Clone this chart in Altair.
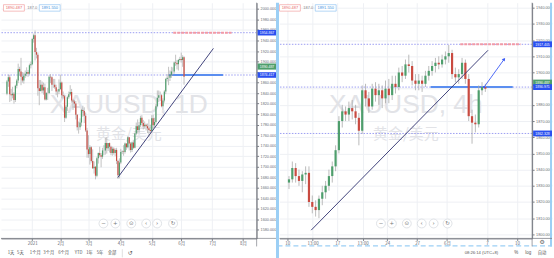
import altair as alt
import pandas as pd

GREEN = "#4e9e6c"; RED = "#c94a40"; WICK = "#a9a9a9"
GRID = "#eef0f4"; AXIS = "#7a7d85"; LAB = "#6a6d75"
BLUE = "#2a4ff0"; LBLUE = "#5b8ef0"; PINK = "#f29aa6"; DOT = "#9093f0"
NAVY = "#2d2f6e"; WM = "#e2e3e7"; SEL = "#9ccff5"
FONT = "Liberation Sans"; CJK = "Noto Sans CJK SC"; SYM = "DejaVu Sans"

# ---------------- Left pane: XAUUSD daily (bar 0 = 2020-12-07) ----------------
L_first_open = 1839
L_close = [1862,1870,1838,1836,1839,1827,1854,1864,1886,1881,1871,1864,1873,1877,1880,1877,1893,1895,
           1943,1950,1918,1913,1849,1844,1856,1845,1851,1828,1840,1840,1871,1870,1856,1856,1851,1843,1843,1848,
           1860,1836,1834,1793,1814,1832,1838,1842,1826,1824,1820,1799,1775,1775,1784,1808,1806,1797,1769,1733,
           1724,1737,1711,1697,1700,1683,1716,1726,1722,1719,1731,1731,1745,1735,1745,1738,1726,1734,1726,1732,1711,1684,1708,
           1728,1729,1728,1744,1737,1756,1744,1732,1746,1736,1763,1777,1770,1779,1793,1783,1777,1780,1777,1773,1770,1768,
           1792,1779,1785,1815,1831,1836,1836,1815,1826,1843,1867,1869,1869,1875,1881,1881,1898,1897,1895,1903,1905,1903,1908,1871]
L_high = [1865,1875,1875,1848,1852,1842,1856,1867,1896,1890,1907,1880,1879,1883,1889,1884,1896,1900,
          1945,1953,1959,1926,1917,1865,1865,1862,1860,1858,1842,1850,1874,1876,1872,1867,1867,1856,1847,1866,
          1875,1862,1843,1837,1817,1835,1843,1855,1848,1829,1827,1825,1800,1786,1792,1810,1816,1813,1803,1774,
          1760,1741,1739,1733,1710,1701,1719,1727,1738,1726,1736,1741,1755,1756,1745,1746,1740,1738,1737,1735,1736,1713,1716,
          1734,1731,1741,1746,1745,1758,1756,1747,1748,1750,1765,1784,1790,1785,1797,1798,1789,1786,1782,1782,1790,1780,
          1798,1799,1793,1819,1845,1845,1843,1838,1830,1846,1869,1876,1890,1883,1890,1889,1900,1913,1903,1905,1909,1917,1912,1910]
L_low = [1836,1852,1823,1825,1830,1820,1823,1849,1859,1873,1855,1860,1858,1869,1872,1871,1875,1887,
         1893,1936,1902,1906,1835,1817,1843,1840,1837,1826,1826,1827,1838,1859,1844,1850,1848,1836,1832,1838,
         1846,1830,1830,1785,1791,1806,1829,1835,1822,1808,1812,1790,1769,1763,1770,1777,1795,1783,1766,1717,
         1717,1704,1708,1696,1687,1676,1680,1706,1718,1699,1715,1722,1723,1725,1730,1727,1722,1721,1723,1720,1705,1677,1678,
         1705,1724,1721,1725,1732,1735,1731,1727,1728,1734,1735,1760,1764,1765,1775,1779,1771,1773,1769,1764,1756,1764,
         1766,1771,1775,1782,1814,1823,1825,1813,1808,1822,1838,1862,1855,1863,1869,1873,1877,1892,1885,1883,1900,1898,1890,1856]
L_xtick_idx = [18, 38, 58, 81, 103, 124, 146, 168]
L_xtick_lab = ["2021", "2月", "3月", "4月", "5月", "6月", "7月", "8月"]
L_yticks = [1580,1600,1620,1640,1660,1680,1700,1720,1740,1760,1780,1800,1820,1840,1860,1880,1900,1920,1940,1960,1980,2000]
L_hidden_ticks = [1880]
L_levels = [1954.867, 1874.417]
L_trend = [78.9, 146.9, 1679.5, 1925.0]          # x1, x2, price1, price2
L_red_seg = [118.3, 159.8, 1954.867]
L_blue_seg = [114.9, 153.7, 1874.417]
L_labels = ["1954.867", "1874.417"]
L_last = [1890.487, "1890.487"]

# ---------------- Right pane: XAUUSD 4h (shown as 3 bars a day, day 0 = 10 May) ----------------
R_first_open = 1832
R_close = [1834,1841,1836, 1833,1837,1838, 1820,1817,1815, 1822,1826,1830, 1836,1842,1852, 1870,1876,1874,
           1878,1876,1872, 1864,1889,1884, 1879,1890,1886, 1889,1884,1890, 1886,1893,1891, 1900,1898,1905,
           1904,1895,1893, 1895,1893,1898, 1901,1904,1906, 1905,1908,1910, 1912,1899,1897, 1899,1906,1896,
           1873,1869,1868, 1889,1891,1890]
R_high = [1836,1845,1844, 1840,1839,1842, 1842,1824,1821, 1824,1830,1833, 1840,1845,1855, 1873,1880,1879,
          1882,1883,1880, 1875,1892,1893, 1888,1893,1894, 1893,1892,1895, 1896,1898,1898, 1903,1904,1908,
          1911,1907,1899, 1899,1898,1901, 1904,1907,1909, 1910,1911,1913, 1917,1914,1903, 1902,1909,1908,
          1899,1877,1874, 1892,1894,1893]
R_low = [1828,1832,1832, 1830,1826,1831, 1817,1813,1811, 1810,1818,1822, 1827,1832,1839, 1850,1866,1870,
         1870,1871,1868, 1855,1862,1879, 1875,1877,1882, 1880,1878,1881, 1881,1883,1887, 1889,1894,1896,
         1900,1892,1889, 1889,1888,1891, 1895,1898,1900, 1902,1903,1905, 1906,1896,1894, 1893,1896,1893,
         1870,1856,1863, 1866,1886,1888]
R_xtick_day = [0, 2.54, 5, 7.54, 10, 13, 16, 20, 23]
R_xtick_lab = ["10", "13:00", "17", "13:00", "24", "27", "6月", "7", "10"]
R_yticks = [1800,1810,1820,1830,1840,1850,1860,1870,1880,1890,1900,1910,1920,1930,1940]
R_hidden_ticks = [1890]
R_levels = [1917.405, 1890.971, 1862.328]
R_trend = [2.39, 20.1, 1802.6, 1913.7]
R_arrow = [19.71, 21.72, 1891.0, 1908.2]
R_red_seg = [17.32, 23.35, 1917.405]
R_blue_seg = [14.35, 22.58, 1890.971]
R_labels = ["1917.405", "1890.971", "1862.328"]
R_last = [1893.6, "1890.487"]

TOOLBAR = ["1天", "5天", "1个月", "3个月", "6个月", "YTD", "1年", "5年", "全部"]
BUTTONS = ["−", "+", "⊙", "‹", "›", "↻"]

ONE = pd.DataFrame({"a": [0]})


def vtext(s, x, y, size=4.2, color=LAB, align="center", baseline="middle", font=FONT, weight="normal"):
    return alt.Chart(pd.DataFrame({"t": [s]})).mark_text(
        fontSize=size, color=color, align=align, baseline=baseline, font=font, fontWeight=weight
    ).encode(x=alt.value(x), y=alt.value(y), text="t:N")


def vbox(x1, x2, y1, y2, fill, stroke="transparent", sw=0.0):
    return alt.Chart(ONE).mark_rect(fill=fill, stroke=stroke, strokeWidth=sw).encode(
        x=alt.value(x1), x2=alt.value(x2), y=alt.value(y1), y2=alt.value(y2))


def vrule(x1, x2, y1, y2, color, sw=1.0, dash=(1, 0)):
    return alt.Chart(ONE).mark_rule(color=color, strokeWidth=sw, strokeDash=list(dash)).encode(
        x=alt.value(x1), x2=alt.value(x2), y=alt.value(y1), y2=alt.value(y2))


def label_expr(vals, labs):
    e = "''"
    for v, l in reversed(list(zip(vals, labs))):
        e = f"datum.value == {v} ? '{l}' : " + e
    return e


def ylabel_expr(hidden):
    cond = " || ".join(f"datum.value == {h}" for h in hidden)
    return f"({cond}) ? '' : format(datum.value, '.3f')"


def pane(first_open, close, high, low, xpos, W, H, xdom, ydom, xticks, xlabs, yticks, hidden,
         body_w, wick_w, levels, trend, red_seg, blue_seg, labels, last, half, sub, btn_x, head_x0, extra):
    opens = [first_open] + close[:-1]
    df = pd.DataFrame({"x": xpos, "o": opens, "h": high, "l": low, "c": close})
    xs = alt.Scale(domain=xdom, nice=False, zero=False)
    ys = alt.Scale(domain=ydom, nice=False, zero=False)
    xa = alt.Axis(values=xticks, labelExpr=label_expr(xticks, xlabs), orient="bottom", title=None,
                  grid=True, gridColor=GRID, domainColor=AXIS, tickColor=AXIS, tickSize=2,
                  labelFontSize=4.5, labelColor=LAB, labelFont=CJK, labelPadding=0.5,
                  labelFlush=False, labelOverlap=False, minExtent=21, maxExtent=21)
    ya = alt.Axis(values=yticks, labelExpr=ylabel_expr(hidden), orient="right", title=None,
                  grid=True, gridColor=GRID, domainColor=AXIS, tickColor=AXIS, tickSize=2,
                  labelFontSize=3.8, labelColor=LAB, labelPadding=1.5, labelFont=FONT,
                  labelFlush=False, labelOverlap=False, minExtent=20, maxExtent=20)
    X = lambda f: alt.X(f, type="quantitative", scale=xs, axis=xa)
    Y = lambda f: alt.Y(f, type="quantitative", scale=ys, axis=ya)

    layers = []
    # watermark
    layers.append(vtext("XAUUSD, " + sub, W / 2, 111, size=26.5, color=WM, baseline="alphabetic"))
    layers.append(vtext("黄金/美元", W / 2, 137, size=15, color=WM, baseline="alphabetic", font=CJK))
    # dotted level lines
    layers.append(alt.Chart(pd.DataFrame({"p": levels})).mark_rule(
        color=DOT, strokeWidth=0.9, strokeDash=[1.5, 1.5]).encode(y=Y("p")))
    # highlighted segments
    layers.append(alt.Chart(pd.DataFrame({"x1": [red_seg[0]], "x2": [red_seg[1]], "p": [red_seg[2]]})).mark_rule(
        color=PINK, strokeWidth=2, strokeDash=[3, 1]).encode(x=X("x1"), x2="x2", y=Y("p")))
    layers.append(alt.Chart(pd.DataFrame({"x1": [blue_seg[0]], "x2": [blue_seg[1]], "p": [blue_seg[2]]})).mark_rule(
        color=LBLUE, strokeWidth=2).encode(x=X("x1"), x2="x2", y=Y("p")))
    # candles
    base = alt.Chart(df)
    layers.append(base.mark_rule(color=WICK, strokeWidth=wick_w).encode(x=X("x"), y=Y("l"), y2="h"))
    layers.append(base.mark_bar(size=body_w).encode(
        x=X("x"), y=Y("o"), y2="c",
        color=alt.condition("datum.c >= datum.o", alt.value(GREEN), alt.value(RED))))
    # trend line
    layers.append(alt.Chart(pd.DataFrame({"x1": [trend[0]], "x2": [trend[1]], "p1": [trend[2]], "p2": [trend[3]]}))
                  .mark_rule(color=NAVY, strokeWidth=0.9).encode(x=X("x1"), x2="x2", y=Y("p1"), y2="p2"))
    layers += extra(X, Y)
    # axis extension lines
    layers.append(vrule(0, W + 20, H, H, AXIS, 0.8))
    layers.append(vrule(W, W, 0, H + 8, AXIS, 0.8))
    # price labels on the price axis
    lab_df = pd.DataFrame({"p": levels, "t": labels})
    last_df = pd.DataFrame({"p": [last[0]], "t": [last[1]]})
    layers.append(alt.Chart(last_df)
                  .transform_calculate(lo=f"datum.p - {half * 1.1}", hi=f"datum.p + {half * 1.1}")
                  .mark_rect(fill=GREEN).encode(x=alt.value(W + 1), x2=alt.value(W + 20), y=Y("lo"), y2="hi"))
    layers.append(alt.Chart(last_df).mark_text(fontSize=3.5, color="white", font=FONT).encode(
        x=alt.value(W + 10.5), y=Y("p"), text="t:N"))
    layers.append(alt.Chart(lab_df)
                  .transform_calculate(lo=f"datum.p - {half}", hi=f"datum.p + {half}")
                  .mark_rect(fill=BLUE).encode(x=alt.value(W + 1), x2=alt.value(W + 20), y=Y("lo"), y2="hi"))
    layers.append(alt.Chart(lab_df).mark_text(fontSize=3.5, color="white", font=FONT, dy=0.4).encode(
        x=alt.value(W + 10.5), y=Y("p"), text="t:N"))
    # header
    h0 = head_x0
    layers.append(vbox(h0, h0 + 21, 2, 8.5, "white", "#f2a3a3", 0.7))
    layers.append(vtext("1890.487", h0 + 10.5, 5.3, 4, "#e86a6a"))
    layers.append(vtext("187.0", h0 + 29, 5.3, 4, "#888"))
    layers.append(vbox(h0 + 36, h0 + 57, 2, 8.5, "white", "#95c6f2", 0.7))
    layers.append(vtext("1891.550", h0 + 46.5, 5.3, 4, "#3d8fe0"))
    # navigation buttons
    for bx, g in zip(btn_x, BUTTONS):
        layers.append(alt.Chart(ONE).mark_point(shape="circle", filled=True, fill="white", stroke="#d3d6dc",
                                                strokeWidth=0.7, size=80, opacity=1).encode(
            x=alt.value(bx), y=alt.value(222)))
        layers.append(vtext(g, bx, 222, 5.5, "#777", font=SYM))
    return alt.layer(*layers).properties(width=W, height=H)


def left_extra(X, Y):
    items = []
    xs = [10, 19.5, 34.5, 48, 63, 78, 89, 99.5, 111.5]
    for x, t in zip(xs, TOOLBAR):
        items.append(vtext(t, x, 252, 4.3, "#555", font=CJK))
    items.append(vrule(122, 122, 248, 256, "#ccc", 0.7))
    items.append(vtext("↺", 130, 252, 6, "#555", font=SYM))
    return items


def right_extra(X, Y):
    items = []
    a = R_arrow
    adf = pd.DataFrame({"x1": [a[0]], "x2": [a[1]], "p1": [a[2]], "p2": [a[3]]})
    items.append(alt.Chart(adf).mark_rule(color="#3b5bf5", strokeWidth=0.9).encode(
        x=X("x1"), x2="x2", y=Y("p1"), y2="p2"))
    items.append(alt.Chart(adf).mark_point(shape="triangle-up", filled=True, color="#3b5bf5", size=14,
                                           angle=37, opacity=1).encode(x=X("x2"), y=Y("p2")))
    items.append(alt.Chart(adf).mark_point(shape="circle", filled=True, color="#3b5bf5", size=5,
                                           opacity=1).encode(x=X("x1"), y=Y("p1")))
    # selected-pane frame
    items.append(vrule(-2, -2, 0, 258, SEL, 3))
    items.append(vrule(273, 273, 0, 245, SEL, 2))
    items.append(vrule(-2, 274, 244.5, 244.5, SEL, 1.2, (5, 3)))
    items.append(vtext("⚙", 264, 241, 6, "#666", font=SYM))
    items.append(vtext("08:26:14 (UTC+8)", 203, 252, 4.2, "#555"))
    items.append(vtext("%", 238, 252, 4.5, "#555"))
    items.append(vtext("log", 250, 252, 4.5, "#555"))
    items.append(vtext("自动", 264, 252, 4.3, "#555", font=CJK))
    return items


R_xpos = [k // 3 + ((k % 3) + 0.5) / 3 for k in range(len(R_close))]

left = pane(L_first_open, L_close, L_high, L_low, list(range(len(L_close))), 257, 237,
            [-0.7, 174.1], [1563.7, 2011.9], L_xtick_idx, L_xtick_lab, L_yticks, L_hidden_ticks,
            1.2, 0.7, L_levels, L_trend, L_red_seg, L_blue_seg, L_labels, L_last, 5.3, "1D",
            [103, 115, 131, 146, 157, 173], 2.5, left_extra)

right = pane(R_first_open, R_close, R_high, R_low, R_xpos, 254, 237,
             [-0.287, 24.02], [1797.5, 1943.1], R_xtick_day, R_xtick_lab, R_yticks, R_hidden_ticks,
             2.2, 0.8, R_levels, R_trend, R_red_seg, R_blue_seg, R_labels, R_last, 1.8, "4h",
             [102, 113, 128, 143, 155, 169], 0, right_extra)

chart = alt.hconcat(left, right, spacing=23).properties(
    bounds="flush", padding=0, background="white"
).configure_view(stroke="transparent")

chart.save("out.html", embed_options={"renderer": "svg", "actions": False})
